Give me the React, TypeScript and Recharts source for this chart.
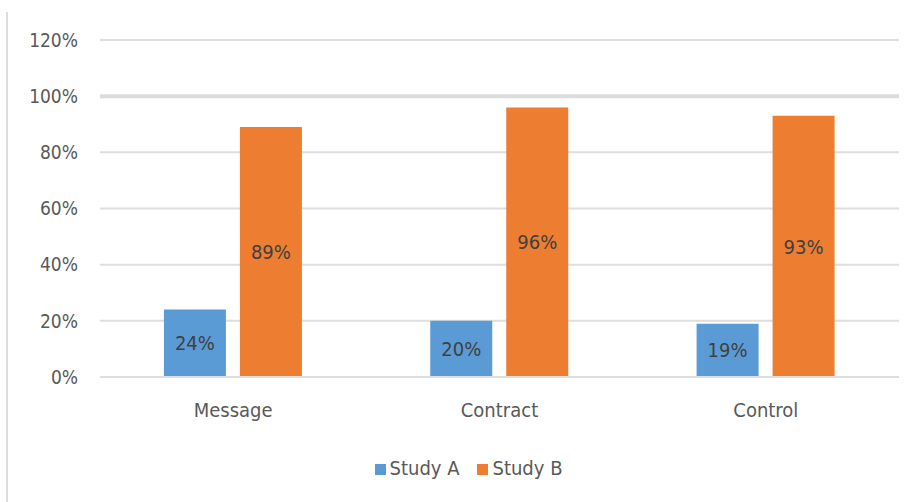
import { Bar, BarChart, CartesianGrid, LabelList, Legend, ReferenceLine, XAxis, YAxis } from "recharts";

const categories = ["Message", "Contract", "Control"];
const studyA = [0.24, 0.2, 0.19];
const studyB = [0.89, 0.96, 0.93];
const yTicks = [0, 0.2, 0.4, 0.6, 0.8, 1, 1.2];

const data = categories.map((name, i) => ({ name, studyA: studyA[i], studyB: studyB[i] }));

const pct = (v: number) => `${Math.round(v * 100)}%`;
const FONT = "'Liberation Sans Narrow', 'DejaVu Sans Condensed', 'Open Sans', sans-serif";

export default function App() {
	return (
		<div
			style={{
				position: "absolute",
				left: 0,
				top: 0,
				width: 921,
				height: 502,
				background: "#fff",
				fontFamily: FONT,
			}}
		>
			<div
				style={{
					position: "absolute",
					left: 6,
					top: 12,
					width: 2,
					height: 490,
					background: "#dcdcdc",
				}}
			/>
			<BarChart
				width={921}
				height={502}
				data={data}
				margin={{ top: 40, right: 22, bottom: 26, left: 0 }}
				barCategoryGap="24%"
				barGap={14}
			>
				<CartesianGrid vertical={false} stroke="#dedede" strokeWidth={2} />
				<ReferenceLine y={1} stroke="#dcdcdc" strokeWidth={4} />
				<XAxis
					dataKey="name"
					axisLine={{ stroke: "#dedede", strokeWidth: 2 }}
					tickLine={false}
					tick={{ fill: "#595959", fontSize: 20 }}
					tickMargin={20}
					height={75}
				/>
				<YAxis
					domain={[0, 1.2]}
					ticks={yTicks}
					tickFormatter={pct}
					axisLine={false}
					tickLine={false}
					tick={{ fill: "#595959", fontSize: 19 }}
					tickMargin={16}
					width={100}
				/>
				<Legend
					verticalAlign="bottom"
					iconType="square"
					iconSize={11}
					wrapperStyle={{ fontSize: 20, color: "#595959", bottom: 22, left: 28 }}
					formatter={(value) => <span style={{ color: "#595959", marginRight: 8 }}>{value}</span>}
				/>
				<Bar dataKey="studyA" name="Study A" fill="#5b9bd5" isAnimationActive={false}>
					<LabelList dataKey="studyA" position="center" formatter={pct} fill="#404040" fontSize={20} />
				</Bar>
				<Bar dataKey="studyB" name="Study B" fill="#ed7d31" isAnimationActive={false}>
					<LabelList dataKey="studyB" position="center" formatter={pct} fill="#404040" fontSize={20} />
				</Bar>
			</BarChart>
		</div>
	);
}
